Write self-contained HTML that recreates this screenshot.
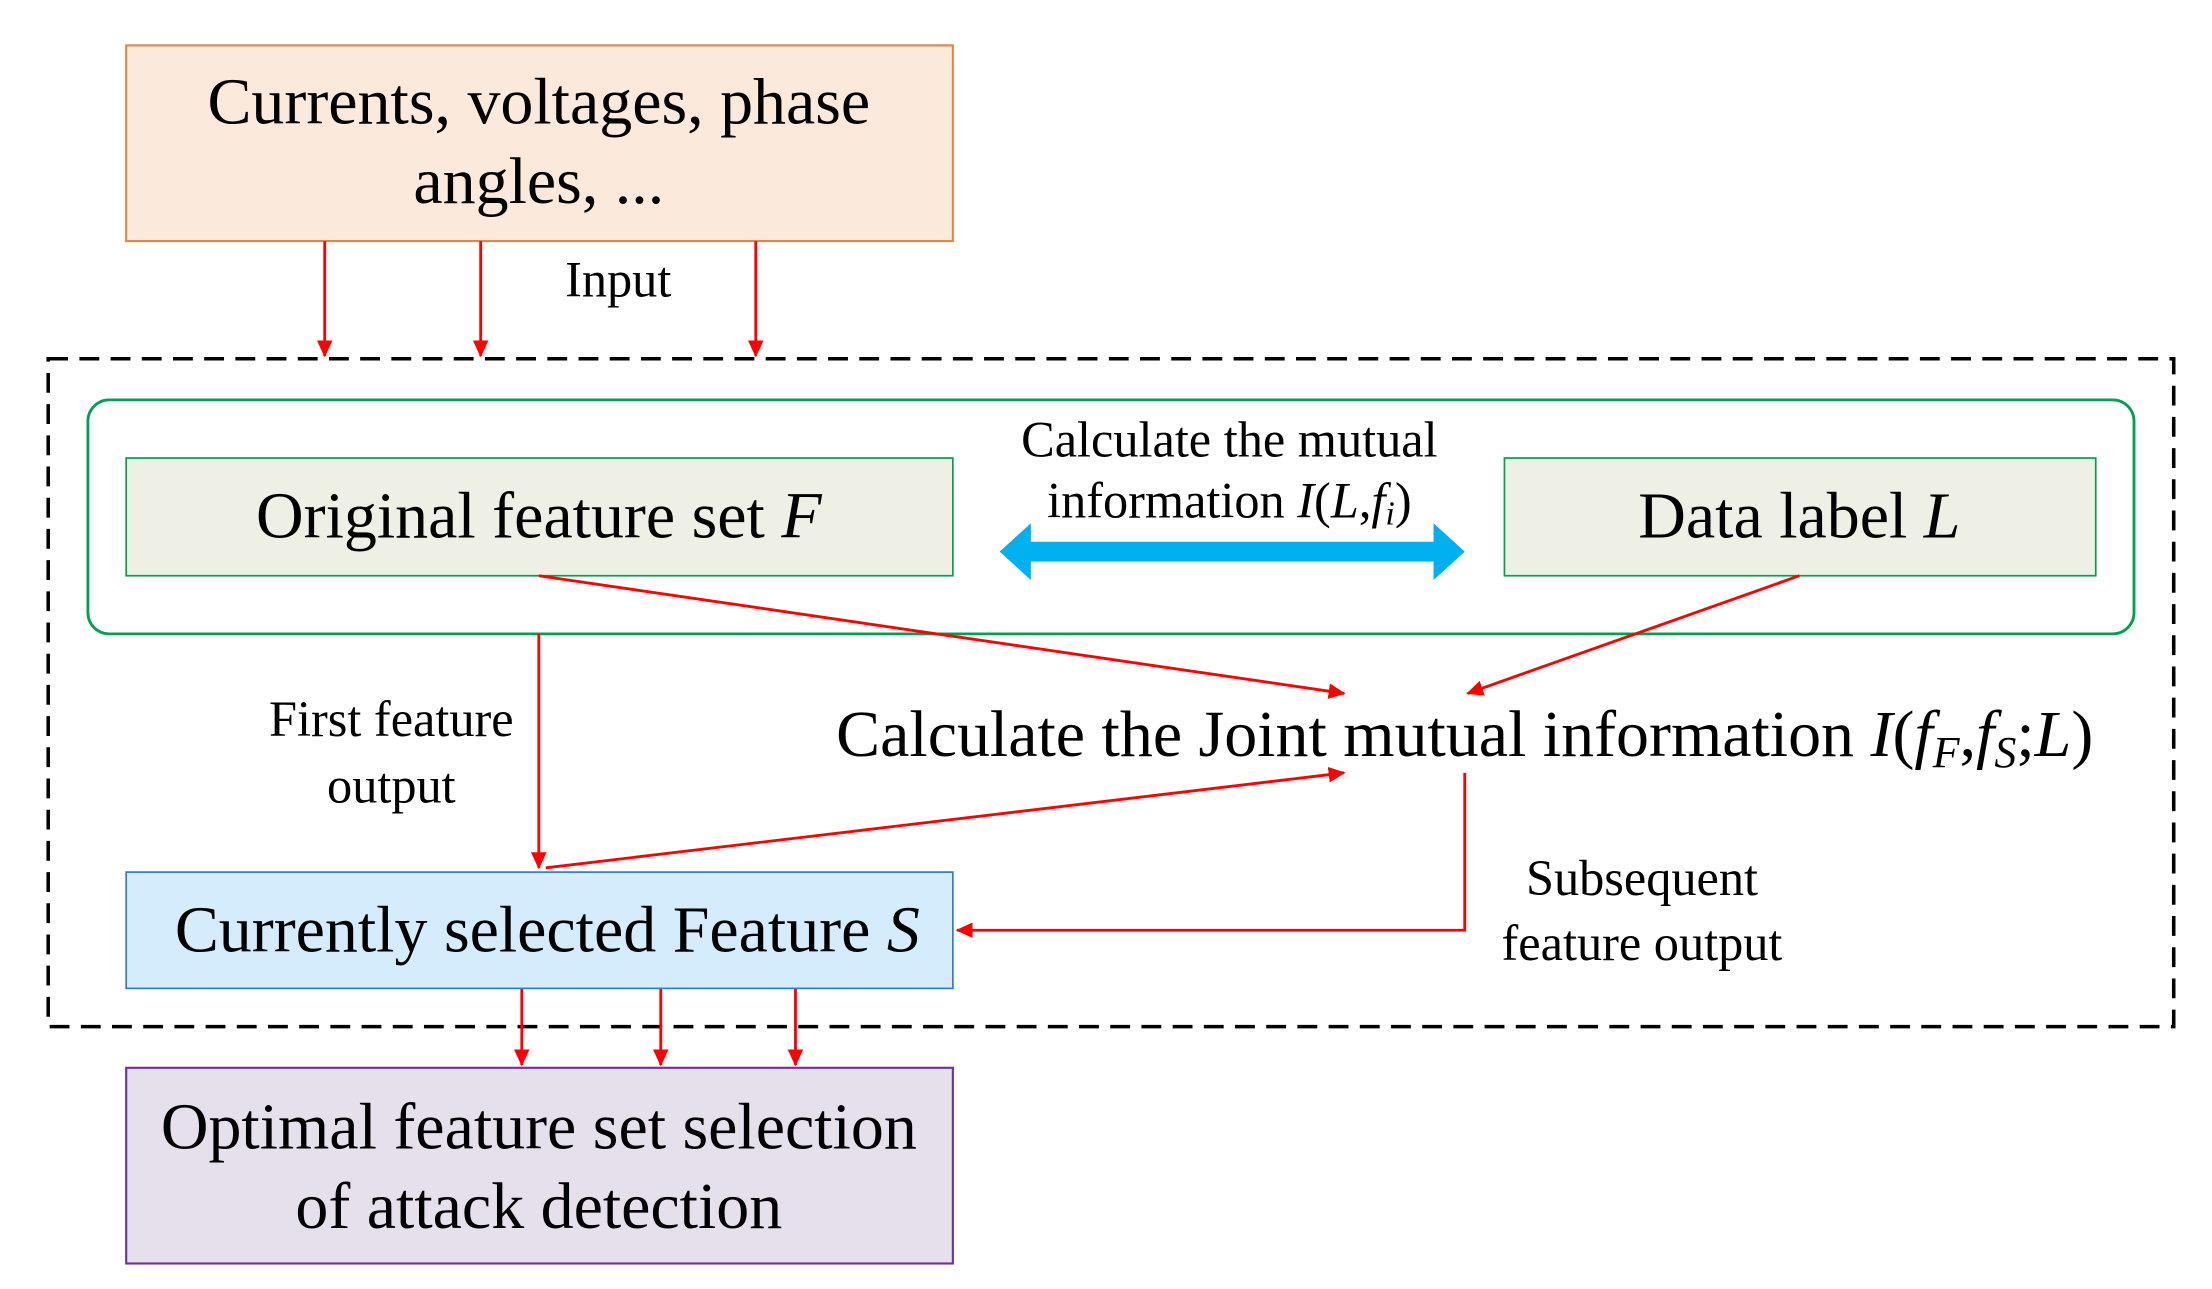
<!DOCTYPE html>
<html><head><meta charset="utf-8"><style>
html,body{margin:0;padding:0;background:#fff;}
svg{display:block;}
text{font-family:"Liberation Serif",serif;fill:#000;}
</style></head><body>
<svg width="2212" height="1289" viewBox="0 0 1560 909" preserveAspectRatio="none" xmlns="http://www.w3.org/2000/svg">
<defs>
<marker id="ah" markerWidth="12" markerHeight="11" refX="11" refY="5.5" orient="auto" markerUnits="userSpaceOnUse">
<path d="M0,0 L12,5.5 L0,11 Z" fill="#ff0000"/></marker>
</defs>
<rect x="89" y="32" width="583" height="138" fill="#fbeadb" stroke="#e0864a" stroke-width="1.5"/>
<text x="380" y="87" font-size="46.5" text-anchor="middle">Currents, voltages, phase</text>
<text x="380" y="143" font-size="46.5" text-anchor="middle">angles, ...</text>
<g stroke="#ff0000" stroke-width="2" fill="none" marker-end="url(#ah)">
<line x1="229" y1="170" x2="229" y2="251"/>
<line x1="339" y1="170" x2="339" y2="251"/>
<line x1="533" y1="170" x2="533" y2="251"/>
</g>
<text x="436" y="209" font-size="35.5" text-anchor="middle">Input</text>
<rect x="34" y="253" width="1499" height="471" fill="none" stroke="#000" stroke-width="2.5" stroke-dasharray="14,8"/>
<rect x="62" y="282" width="1443" height="165" rx="15" fill="none" stroke="#00a050" stroke-width="2"/>
<rect x="89" y="323" width="583" height="83" fill="#eef0e6" stroke="#00a050" stroke-width="1.2"/>
<text x="380" y="379" font-size="46.5" text-anchor="middle">Original feature set <tspan font-style="italic">F</tspan></text>
<rect x="1061" y="323" width="417" height="83" fill="#eef0e6" stroke="#00a050" stroke-width="1.2"/>
<text x="1269" y="379" font-size="46.5" text-anchor="middle">Data label <tspan font-style="italic">L</tspan></text>
<path d="M705,389 L727,369 L727,382 L1011,382 L1011,369 L1033,389 L1011,409 L1011,396 L727,396 L727,409 Z" fill="#00b0f0"/>
<text x="867" y="322" font-size="35.5" text-anchor="middle">Calculate the mutual</text>
<text x="867" y="365" font-size="35.5" text-anchor="middle">information <tspan font-style="italic">I</tspan>(<tspan font-style="italic">L</tspan>,<tspan font-style="italic">f<tspan font-size="24" dy="5">i</tspan></tspan><tspan dy="-5">)</tspan></text>
<text x="1033" y="533" font-size="46.5" text-anchor="middle">Calculate the Joint mutual information <tspan font-style="italic">I</tspan>(<tspan font-style="italic">f<tspan font-size="31" dy="8">F</tspan></tspan><tspan dy="-8">,</tspan><tspan font-style="italic">f<tspan font-size="31" dy="8">S</tspan></tspan><tspan dy="-8">;</tspan><tspan font-style="italic">L</tspan>)</text>
<g stroke="#ff0000" stroke-width="2" fill="none" marker-end="url(#ah)">
<line x1="380" y1="406" x2="948" y2="489"/>
<line x1="1269" y1="406" x2="1035" y2="489"/>
<line x1="380" y1="447" x2="380" y2="612"/>
<line x1="385" y1="612" x2="948" y2="545"/>
<polyline points="1033,545 1033,656 675,656"/>
<line x1="368" y1="697" x2="368" y2="751"/>
<line x1="466" y1="697" x2="466" y2="751"/>
<line x1="561" y1="697" x2="561" y2="751"/>
</g>
<text x="276" y="519" font-size="35.5" text-anchor="middle">First feature</text>
<text x="276" y="566" font-size="35.5" text-anchor="middle">output</text>
<text x="1158" y="631" font-size="35.5" text-anchor="middle">Subsequent</text>
<text x="1158" y="677" font-size="35.5" text-anchor="middle">feature output</text>
<rect x="89" y="615" width="583" height="82" fill="#d5ecfc" stroke="#2f7fc0" stroke-width="1.2"/>
<text x="386" y="671" font-size="46.5" text-anchor="middle">Currently selected Feature <tspan font-style="italic">S</tspan></text>
<rect x="89" y="753" width="583" height="138" fill="#e6e0ec" stroke="#7030a0" stroke-width="1.5"/>
<text x="380" y="810" font-size="46.5" text-anchor="middle">Optimal feature set selection</text>
<text x="380" y="866" font-size="46.5" text-anchor="middle">of attack detection</text>
</svg>
</body></html>
